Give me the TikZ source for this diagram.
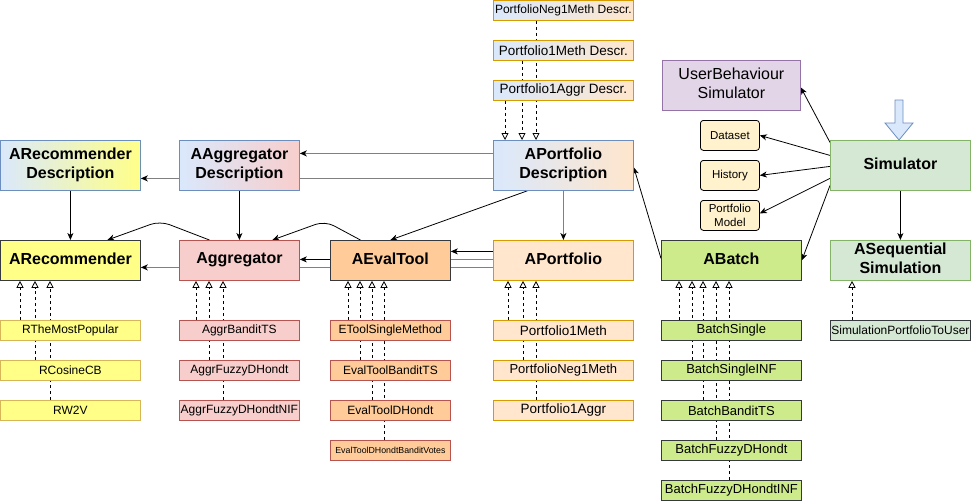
\documentclass[tikz,border=0pt]{standalone}
\usepackage{fontspec}
\setmainfont{Liberation Sans}
\usetikzlibrary{arrows.meta,calc}
\pgfdeclarelayer{back}
\pgfdeclarelayer{bg}
\pgfsetlayers{back,bg,main}
\definecolor{cblue}{HTML}{DAE8FC}
\definecolor{cblueb}{HTML}{6C8EBF}
\definecolor{cyel}{HTML}{FFFF88}
\definecolor{cyelb}{HTML}{D6B656}
\definecolor{cred}{HTML}{F8CECC}
\definecolor{credb}{HTML}{B85450}
\definecolor{corg}{HTML}{FFCC99}
\definecolor{cpeach}{HTML}{FFE6CC}
\definecolor{cpeachb}{HTML}{D79B00}
\definecolor{cgreen}{HTML}{CDEB8B}
\definecolor{cdark}{HTML}{36393D}
\definecolor{clgreen}{HTML}{D5E8D4}
\definecolor{clgreenb}{HTML}{82B366}
\definecolor{cpurple}{HTML}{E1D5E7}
\definecolor{cpurpleb}{HTML}{9673A6}
\definecolor{ccream}{HTML}{FFF2CC}
\definecolor{cgrayline}{HTML}{808080}
\begin{document}
\begin{tikzpicture}[x=1pt,y=-1pt,
 base/.style={draw, anchor=north west, inner sep=0pt, align=center, line width=0.8pt},
 bigbox/.style={base, minimum height=50pt, text depth=4pt, font=\bfseries\fontsize{16}{19}\selectfont},
 midbox/.style={base, minimum height=40pt, text depth=4pt, font=\bfseries\fontsize{16}{19}\selectfont},
 subbox/.style={base, minimum height=20pt, font=\fontsize{12}{14}\selectfont},
 rbox/.style={base, rounded corners=3pt, fill=ccream, draw=black, minimum width=59pt, minimum height=30pt, font=\fontsize{11.5}{14}\selectfont},
 wa/.style={minimum width=140pt}, wb/.style={minimum width=120pt},
 recsub/.style={subbox, wa, fill=cyel, draw=cyelb},
 aggsub/.style={subbox, wb, fill=cred, draw=credb},
 evsub/.style={subbox, wb, fill=corg, draw=credb},
 posub/.style={subbox, wa, fill=cpeach, draw=cpeachb, font=\fontsize{13.5}{16}\selectfont},
 basub/.style={subbox, wa, fill=cgreen, draw=cdark, font=\fontsize{13}{15}\selectfont},
 descsub/.style={subbox, wa, left color=cblue, right color=cpeach, draw=cpeachb, font=\fontsize{13.5}{16}\selectfont},
 arr/.style={-{Stealth[length=7pt,width=6pt,inset=2pt]}, line width=0.8pt},
 grayarr/.style={-{Stealth[length=7pt,width=6pt,inset=2pt,color=black]}, line width=1.5pt, draw=cgrayline},
 grayline/.style={line width=1.5pt, draw=cgrayline},
 inh/.style={-{Triangle[open,length=7pt,width=7pt,fill=white]}, dash pattern=on 3pt off 3pt, line width=0.8pt}
]
\begin{pgfonlayer}{back}
\path[use as bounding box, fill=white] (0,0) rectangle (971,501);
\end{pgfonlayer}

% main boxes
\node[bigbox,wa,draw=cblueb,left color=cblue,right color=cyel] (ard) at (0,140) {ARecommender\\Description};
\node[bigbox,wb,draw=cblueb,left color=cblue,right color=cred] (aad) at (179,140) {AAggregator\\Description};
\node[bigbox,wa,draw=cblueb,left color=cblue,right color=cpeach] (apd) at (493,140) {APortfolio\\Description};
\node[midbox,wa,draw=cdark,fill=cyel] (arec) at (0,240) {ARecommender};
\node[midbox,wb,draw=credb,fill=cred] (aggr) at (179,240) {Aggregator};
\node[midbox,wb,draw=cdark,fill=corg] (aeval) at (330,240) {AEvalTool};
\node[midbox,wa,draw=cpeachb,fill=cpeach] (aport) at (493,240) {APortfolio};
\node[midbox,wa,draw=cdark,fill=cgreen] (abatch) at (661,240) {ABatch};
\node[midbox,wa,draw=clgreenb,fill=clgreen] (aseq) at (830,240) {ASequential\\Simulation};
\node[bigbox,wa,draw=clgreenb,fill=clgreen] (sim) at (830,140) {Simulator};
\node[bigbox,minimum width=138pt,draw=cpurpleb,fill=cpurple,font=\fontsize{16}{19}\selectfont] (ubs) at (662,60) {UserBehaviour\\Simulator};
\node[rbox] (ds) at (700,120) {Dataset};
\node[rbox] (hist) at (700,160) {History};
\node[rbox] (pm) at (700,200) {Portfolio\\Model};

% description sub boxes
\node[descsub,font=\fontsize{12}{14}\selectfont] (pnd) at (493,0) {PortfolioNeg1Meth Descr.};
\node[descsub] (pmd) at (493,40) {Portfolio1Meth Descr.};
\node[descsub] (pad) at (493,80) {Portfolio1Aggr Descr.};

% sub boxes
\node[recsub] (rtmp) at (0,320) {RTheMostPopular};
\node[recsub] (rcos) at (0,360) {RCosineCB};
\node[recsub] (rw2v) at (0,400) {RW2V};
\node[aggsub] (abts) at (179,320) {AggrBanditTS};
\node[aggsub] (afd) at (179,360) {AggrFuzzyDHondt};
\node[aggsub] (afdn) at (179,400) {AggrFuzzyDHondtNIF};
\node[evsub] (etsm) at (330,320) {EToolSingleMethod};
\node[evsub] (etbt) at (330,360) {EvalToolBanditTS};
\node[evsub] (etdh) at (330,400) {EvalToolDHondt};
\node[evsub,font=\fontsize{8.8}{10}\selectfont] (etdbv) at (330,440) {EvalToolDHondtBanditVotes};
\node[posub] (p1m) at (493,320) {Portfolio1Meth};
\node[posub,font=\fontsize{13}{15}\selectfont] (pn1m) at (493,360) {PortfolioNeg1Meth};
\node[posub] (p1a) at (493,400) {Portfolio1Aggr};
\node[basub] (bs) at (661,320) {BatchSingle};
\node[basub] (bsi) at (661,360) {BatchSingleINF};
\node[basub] (bbt) at (661,400) {BatchBanditTS};
\node[basub] (bfd) at (661,440) {BatchFuzzyDHondt};
\node[basub] (bfdi) at (661,480) {BatchFuzzyDHondtINF};
\node[subbox,wa,fill=clgreen,draw=cdark] (sptu) at (830,320) {SimulationPortfolioToUser};

% blue block arrow
\draw[fill=cblue, draw=cblueb, line width=0.8pt] (895,100) -- (903,100) -- (903,123) -- (913,123) -- (899,140) -- (885,123) -- (895,123) -- cycle;

% tip coordinates for inheritance
\coordinate (r1) at ([xshift=20pt]arec.south west);
\coordinate (r2) at ([xshift=35pt]arec.south west);
\coordinate (r3) at ([xshift=50pt]arec.south west);
\coordinate (g1) at ([xshift=17pt]aggr.south west);
\coordinate (g2) at ([xshift=30pt]aggr.south west);
\coordinate (g3) at ([xshift=44pt]aggr.south west);
\coordinate (e1) at ([xshift=18pt]aeval.south west);
\coordinate (e2) at ([xshift=30pt]aeval.south west);
\coordinate (e3) at ([xshift=42pt]aeval.south west);
\coordinate (e4) at ([xshift=54pt]aeval.south west);
\coordinate (o1) at ([xshift=15pt]aport.south west);
\coordinate (o2) at ([xshift=30pt]aport.south west);
\coordinate (o3) at ([xshift=43pt]aport.south west);
\coordinate (b1) at ([xshift=18pt]abatch.south west);
\coordinate (b2) at ([xshift=31pt]abatch.south west);
\coordinate (b3) at ([xshift=42pt]abatch.south west);
\coordinate (b4) at ([xshift=55pt]abatch.south west);
\coordinate (b5) at ([xshift=68pt]abatch.south west);
\coordinate (s1) at ([xshift=22pt]aseq.south west);
\coordinate (d1) at ([xshift=12pt]apd.north west);
\coordinate (d2) at ([xshift=29pt]apd.north west);
\coordinate (d3) at ([xshift=43pt]apd.north west);
\coordinate (pk1) at (160,221);
\coordinate (pk2) at (325,221);

\begin{pgfonlayer}{bg}
% inheritance
\draw[inh] (rtmp.north -| r1) -- (r1);
\draw[inh] (rcos.north -| r2) -- (r2);
\draw[inh] (rw2v.north -| r3) -- (r3);
\draw[inh] (abts.north -| g1) -- (g1);
\draw[inh] (afd.north -| g2) -- (g2);
\draw[inh] (afdn.north -| g3) -- (g3);
\draw[inh] (etsm.north -| e1) -- (e1);
\draw[inh] (etbt.north -| e2) -- (e2);
\draw[inh] (etdh.north -| e3) -- (e3);
\draw[inh] (etdbv.north -| e4) -- (e4);
\draw[inh] (p1m.north -| o1) -- (o1);
\draw[inh] (pn1m.north -| o2) -- (o2);
\draw[inh] (p1a.north -| o3) -- (o3);
\draw[inh] (bs.north -| b1) -- (b1);
\draw[inh] (bsi.north -| b2) -- (b2);
\draw[inh] (bbt.north -| b3) -- (b3);
\draw[inh] (bfd.north -| b4) -- (b4);
\draw[inh] (bfdi.north -| b5) -- (b5);
\draw[inh] (sptu.north -| s1) -- (s1);
\draw[inh] (pad.south -| d1) -- (d1);
\draw[inh] (pmd.south -| d2) -- (d2);
\draw[inh] (pnd.south -| d3) -- (d3);

% gray connectors
\draw[grayarr] ([yshift=12pt]apd.west) -- ([yshift=12pt]apd.west -| aad.east);
\draw[grayarr] ([yshift=-13pt]apd.west) -- ([yshift=-13pt]apd.west -| ard.east);
\draw[grayarr] (apd.south) -- (aport.north);
\draw[grayline] ([yshift=1pt]aport.west) -- ([yshift=1pt]aport.west -| aeval.east);
\draw[grayarr] ([yshift=-7pt]aport.west) -- ([yshift=-7pt]aport.west -| arec.east);

% black connectors
\draw[arr] (ard.south) -- (arec.north);
\draw[arr] (aad.south) -- (aggr.north);
\draw[arr] ([yshift=9pt]aport.west) -- ([yshift=9pt]aport.west -| aeval.east);
\draw[arr] ([yshift=1pt]aeval.west) -- ([yshift=1pt]aeval.west -| aggr.east);
\draw[arr, rounded corners=10pt] ([xshift=-30pt]aggr.north) -- (pk1) -- ([xshift=37pt]arec.north);
\draw[arr, rounded corners=10pt] ([xshift=-30pt]aeval.north) -- (pk2) -- ([xshift=33pt]aggr.north);
\draw[arr] ([xshift=-36pt]apd.south) -- (aeval.north);
\draw[arr] ([yshift=2pt]abatch.west) -- ([yshift=-2pt]apd.east);
\draw[arr] ([yshift=23pt]sim.west) -- ([yshift=-2pt]ubs.east);
\draw[arr] ([yshift=10pt]sim.west) -- (ds.east);
\draw[arr] ([yshift=-1pt]sim.west) -- (hist.east);
\draw[arr] ([yshift=-13pt]sim.west) -- ([yshift=2pt]pm.east);
\draw[arr] ([yshift=-20pt]sim.west) -- (abatch.east);
\draw[arr] (sim.south) -- (aseq.north);
\end{pgfonlayer}
\end{tikzpicture}
\end{document}
